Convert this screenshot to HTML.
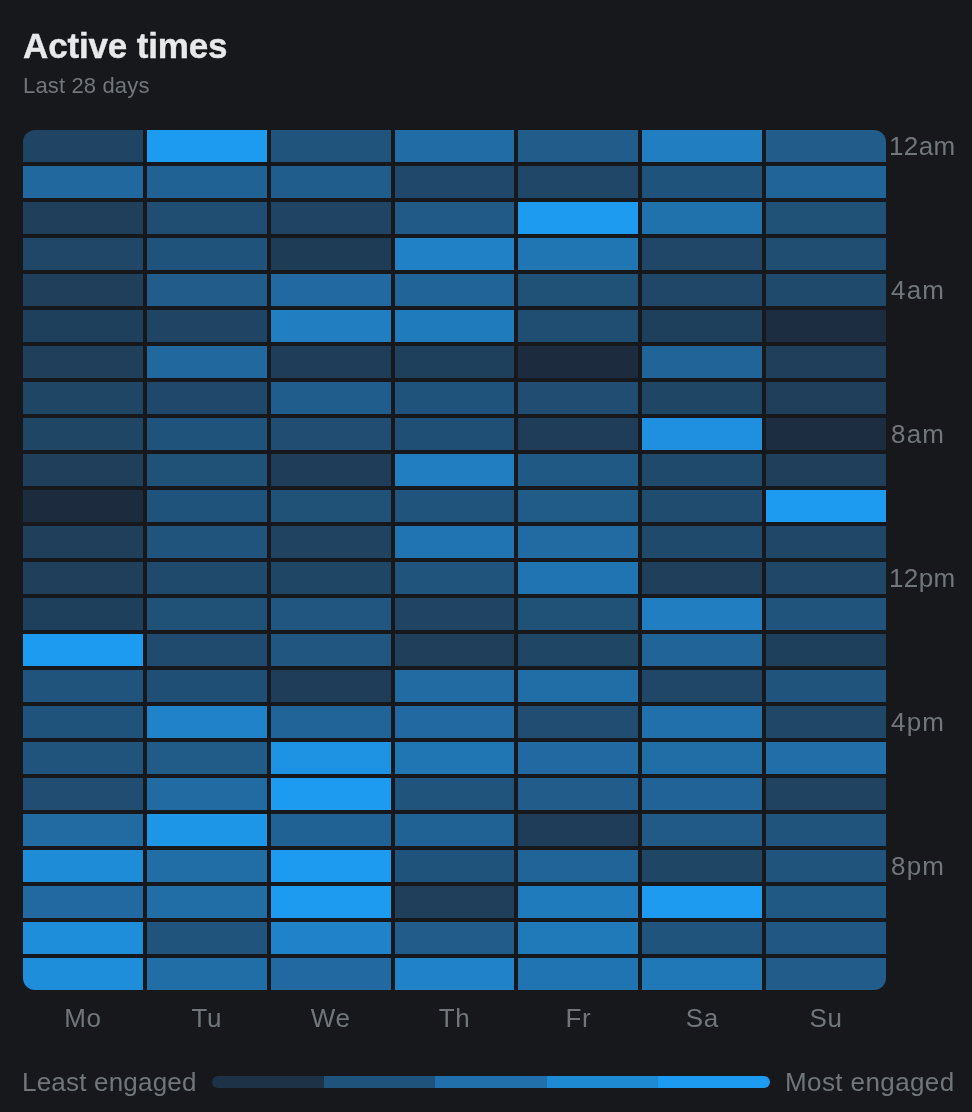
<!DOCTYPE html>
<html lang="en">
<head>
<meta charset="utf-8">
<title>Active times</title>
<style>
html,body{margin:0;padding:0;background:#16181c;}
body{width:972px;height:1112px;position:relative;overflow:hidden;font-family:"Liberation Sans",sans-serif;-webkit-font-smoothing:antialiased;}
.title{position:absolute;left:23px;top:26px;font-size:35px;line-height:40px;font-weight:700;color:#e7e9ea;letter-spacing:-0.15px;-webkit-text-stroke:0.4px #e7e9ea;white-space:nowrap;}
.sub{position:absolute;left:23px;top:72px;font-size:22px;line-height:28px;color:#71767b;letter-spacing:0.15px;white-space:nowrap;}
.grid{position:absolute;left:23px;top:130px;width:863px;height:860px;border-radius:12px;overflow:hidden;display:grid;grid-template-columns:repeat(7,1fr);grid-auto-rows:32px;gap:4px;background:#16181c;}
.grid i{display:block;background:#1d9bf0;}
.hr{position:absolute;left:889px;letter-spacing:0.4px;font-size:26px;line-height:32px;color:#71767b;white-space:nowrap;}
.day{position:absolute;top:1002px;width:119.86px;text-align:center;letter-spacing:0.6px;font-size:26px;line-height:32px;color:#71767b;}
.lg{position:absolute;top:1066px;letter-spacing:0.2px;font-size:26px;line-height:32px;color:#71767b;white-space:nowrap;}
.bar{position:absolute;left:212px;top:1076px;width:558px;height:12px;border-radius:6px;overflow:hidden;display:flex;}
.bar b{flex:1;background:#1d9bf0;display:block;}
</style>
</head>
<body>
<div class="title">Active times</div>
<div class="sub">Last 28 days</div>
<div class="grid">
<i style="background:#204564"></i><i style="background:#1d9bf0"></i><i style="background:#21547d"></i><i style="background:#216ca4"></i><i style="background:#215c8a"></i><i style="background:#207ec1"></i><i style="background:#215c8a"></i>
<i style="background:#21689e"></i><i style="background:#216294"></i><i style="background:#215d8c"></i><i style="background:#20486a"></i><i style="background:#204768"></i><i style="background:#20537b"></i><i style="background:#216498"></i>
<i style="background:#1f3f5a"></i><i style="background:#204e73"></i><i style="background:#204564"></i><i style="background:#215a87"></i><i style="background:#1d9bf0"></i><i style="background:#2072ad"></i><i style="background:#205177"></i>
<i style="background:#204768"></i><i style="background:#20537b"></i><i style="background:#1f3c57"></i><i style="background:#2081c7"></i><i style="background:#2075b3"></i><i style="background:#204768"></i><i style="background:#204e73"></i>
<i style="background:#1f3f5a"></i><i style="background:#215c8a"></i><i style="background:#2169a0"></i><i style="background:#216498"></i><i style="background:#205177"></i><i style="background:#204768"></i><i style="background:#204a6c"></i>
<i style="background:#1f405c"></i><i style="background:#204564"></i><i style="background:#207ec1"></i><i style="background:#207bbd"></i><i style="background:#204e73"></i><i style="background:#1f405c"></i><i style="background:#1d2d41"></i>
<i style="background:#1f3f5a"></i><i style="background:#21689e"></i><i style="background:#1f3d59"></i><i style="background:#1f405c"></i><i style="background:#1d2b3e"></i><i style="background:#216498"></i><i style="background:#1f3f5a"></i>
<i style="background:#204666"></i><i style="background:#20486a"></i><i style="background:#215d8c"></i><i style="background:#20537b"></i><i style="background:#204d71"></i><i style="background:#204666"></i><i style="background:#1f3f5a"></i>
<i style="background:#204666"></i><i style="background:#20537b"></i><i style="background:#204d71"></i><i style="background:#204f75"></i><i style="background:#1f3d59"></i><i style="background:#1e90df"></i><i style="background:#1d2d41"></i>
<i style="background:#1f3f5a"></i><i style="background:#205177"></i><i style="background:#1f3d59"></i><i style="background:#207ec1"></i><i style="background:#215985"></i><i style="background:#204a6c"></i><i style="background:#1f3f5a"></i>
<i style="background:#1d2b3e"></i><i style="background:#20537b"></i><i style="background:#205177"></i><i style="background:#21547d"></i><i style="background:#215b88"></i><i style="background:#204c70"></i><i style="background:#1d9bf0"></i>
<i style="background:#1f3f5a"></i><i style="background:#21547d"></i><i style="background:#204361"></i><i style="background:#2074b1"></i><i style="background:#216aa2"></i><i style="background:#204a6c"></i><i style="background:#204768"></i>
<i style="background:#1f3f5a"></i><i style="background:#204a6c"></i><i style="background:#204666"></i><i style="background:#21547d"></i><i style="background:#2074b1"></i><i style="background:#1f3f5a"></i><i style="background:#204768"></i>
<i style="background:#1f405c"></i><i style="background:#205177"></i><i style="background:#215681"></i><i style="background:#204564"></i><i style="background:#205177"></i><i style="background:#207ec1"></i><i style="background:#21547d"></i>
<i style="background:#1d9bf0"></i><i style="background:#204b6e"></i><i style="background:#215681"></i><i style="background:#1f3f5a"></i><i style="background:#204666"></i><i style="background:#216498"></i><i style="background:#1f405c"></i>
<i style="background:#21547d"></i><i style="background:#204f75"></i><i style="background:#1f3d59"></i><i style="background:#216aa2"></i><i style="background:#216da6"></i><i style="background:#204768"></i><i style="background:#21547d"></i>
<i style="background:#20537b"></i><i style="background:#2083ca"></i><i style="background:#216498"></i><i style="background:#2169a0"></i><i style="background:#204d71"></i><i style="background:#2170ac"></i><i style="background:#204768"></i>
<i style="background:#21547d"></i><i style="background:#215b88"></i><i style="background:#1e93e4"></i><i style="background:#2075b3"></i><i style="background:#2169a0"></i><i style="background:#216da6"></i><i style="background:#216ea8"></i>
<i style="background:#204d71"></i><i style="background:#216aa2"></i><i style="background:#1d9bf0"></i><i style="background:#21547d"></i><i style="background:#215c8a"></i><i style="background:#216396"></i><i style="background:#204361"></i>
<i style="background:#216aa2"></i><i style="background:#1e96e7"></i><i style="background:#216294"></i><i style="background:#216294"></i><i style="background:#1f3d59"></i><i style="background:#215a87"></i><i style="background:#21547d"></i>
<i style="background:#1f8cd8"></i><i style="background:#216da6"></i><i style="background:#1d9bf0"></i><i style="background:#20537b"></i><i style="background:#216498"></i><i style="background:#204666"></i><i style="background:#21547d"></i>
<i style="background:#2169a0"></i><i style="background:#216da6"></i><i style="background:#1d9bf0"></i><i style="background:#1f3f5a"></i><i style="background:#207bbd"></i><i style="background:#1d9bf0"></i><i style="background:#215985"></i>
<i style="background:#1e8edb"></i><i style="background:#21547d"></i><i style="background:#2083ca"></i><i style="background:#215c8a"></i><i style="background:#2079b9"></i><i style="background:#21547d"></i><i style="background:#215883"></i>
<i style="background:#1e8edb"></i><i style="background:#216da6"></i><i style="background:#2169a0"></i><i style="background:#2083ca"></i><i style="background:#2074b1"></i><i style="background:#2078b7"></i><i style="background:#215c8a"></i>

</div>
<div class="hr" style="top:130px">12am</div>
<div class="hr" style="top:274px;left:891px;letter-spacing:1.2px">4am</div>
<div class="hr" style="top:418px;left:891px;letter-spacing:1.2px">8am</div>
<div class="hr" style="top:562px">12pm</div>
<div class="hr" style="top:706px;left:891px;letter-spacing:1.2px">4pm</div>
<div class="hr" style="top:850px;left:891px;letter-spacing:1.2px">8pm</div>
<div class="day" style="left:23.00px">Mo</div>
<div class="day" style="left:146.86px">Tu</div>
<div class="day" style="left:270.71px">We</div>
<div class="day" style="left:394.57px">Th</div>
<div class="day" style="left:518.43px">Fr</div>
<div class="day" style="left:642.29px">Sa</div>
<div class="day" style="left:766.14px">Su</div>
<div class="lg" style="left:22px">Least engaged</div>
<div class="bar"><b style="background:#1e3247"></b><b style="background:#20537b"></b><b style="background:#2170ac"></b><b style="background:#1f8ad4"></b><b style="background:#1d9bf0"></b></div>
<div class="lg" style="left:785px;letter-spacing:0.4px">Most engaged</div>
</body>
</html>
